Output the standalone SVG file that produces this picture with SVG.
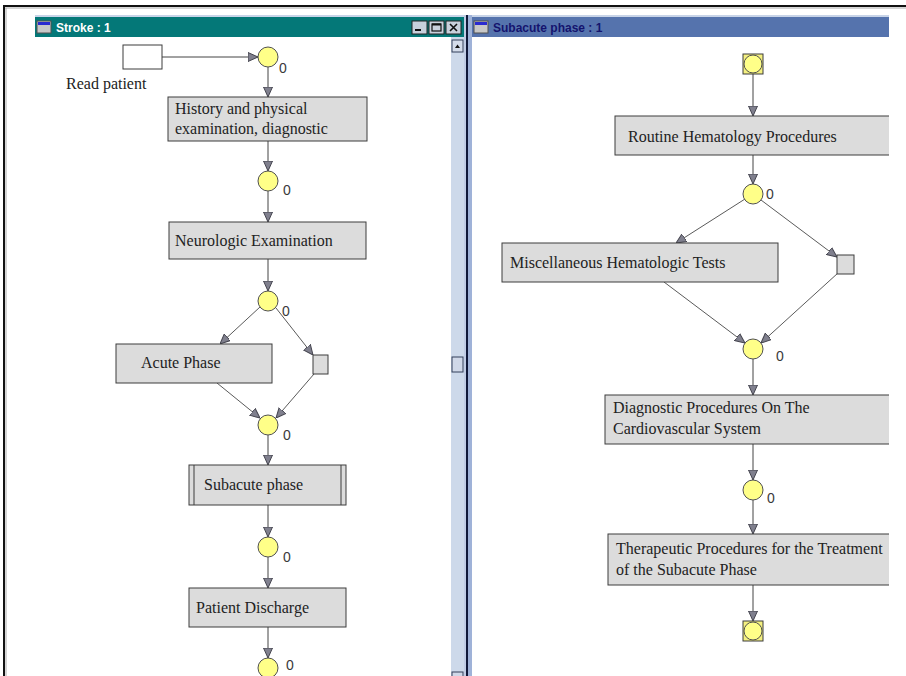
<svg xmlns="http://www.w3.org/2000/svg" width="906" height="676" viewBox="0 0 906 676">
  <style>
    .task { fill: #dcdcdc; stroke: #3c3c3c; stroke-width: 1; }
    .label { font-family: "Liberation Serif", "Times New Roman", serif; font-size: 16px; fill: #222; }
    .place { fill: #ffff88; stroke: #505050; stroke-width: 1; }
    .count { font-family: "Liberation Sans", Arial, sans-serif; font-size: 14px; fill: #3a3a3a; }
    .edge { fill: none; stroke: #454545; stroke-width: 1; marker-end: url(#arrow); }
    .diag { stroke: #5a5a5a; }
    .gate { fill: #dcdcdc; stroke: #3c3c3c; stroke-width: 1; }
    .title { font-family: "Liberation Sans", Arial, sans-serif; font-size: 12px; font-weight: bold; }
  </style>
  <defs>
    <marker id="arrow" viewBox="0 0 10 10" refX="10" refY="5" markerWidth="10" markerHeight="10" markerUnits="userSpaceOnUse" orient="auto">
      <path d="M0,0.5 L10,5 L0,9.5 Z" fill="#80808e" stroke="#45454f" stroke-width="1"/>
    </marker>
    <clipPath id="leftPane"><rect x="35" y="37" width="416" height="639"/></clipPath>
    <clipPath id="rightPane"><rect x="472" y="37" width="417" height="639"/></clipPath>
    <g id="winIcon">
      <rect x="0" y="0" width="14" height="12" fill="#c8c8c8" stroke="#505050" stroke-width="1"/>
      <rect x="1" y="1" width="12" height="3" fill="#2a2ad0"/>
    </g>
  </defs>

  <!-- page background and outer frame -->
  <rect x="0" y="0" width="906" height="676" fill="#ffffff"/>
  <line x1="3" y1="6" x2="906" y2="6" stroke="#111" stroke-width="2"/>
  <line x1="4" y1="6" x2="4" y2="676" stroke="#111" stroke-width="2"/>
  <line x1="6" y1="8" x2="6" y2="676" stroke="#aaa" stroke-width="1"/>
  <line x1="5" y1="8" x2="906" y2="8" stroke="#aaa" stroke-width="1"/>

  <!-- left window chrome -->
  <g id="stroke-window">
    <rect x="35" y="15" width="430" height="3" fill="#c8d4e8"/>
    <rect x="35" y="17" width="430" height="20" fill="#047878"/>
    <use href="#winIcon" x="37" y="21"/>
    <text class="title" x="56" y="32" fill="#ffffff">Stroke : 1</text>
    <g id="min-btn">
      <rect x="412" y="21" width="15" height="13" fill="#c8d0dc" stroke="#222" stroke-width="1"/>
      <rect x="415" y="29" width="6" height="2" fill="#111"/>
    </g>
    <g id="max-btn">
      <rect x="429" y="21" width="15" height="13" fill="#c8d0dc" stroke="#222" stroke-width="1"/>
      <rect x="432" y="24" width="9" height="7" fill="none" stroke="#111" stroke-width="1.2"/>
      <line x1="432" y1="24.5" x2="441" y2="24.5" stroke="#111" stroke-width="2"/>
    </g>
    <g id="close-btn">
      <rect x="446" y="21" width="15" height="13" fill="#c8d0dc" stroke="#222" stroke-width="1"/>
      <path d="M450,24 L457,31 M457,24 L450,31" stroke="#111" stroke-width="1.6"/>
    </g>
    <rect x="35" y="37" width="416" height="639" fill="#ffffff"/>
    <!-- vertical scrollbar -->
    <rect x="451" y="37" width="13" height="639" fill="#cdd9ea"/>
    <rect x="452" y="40" width="11" height="12" fill="#d4dcea" stroke="#34405a" stroke-width="1"/>
    <path d="M455,48 L460,48 L457.5,44.5 Z" fill="#111"/>
    <rect x="452" y="357" width="11" height="15" fill="#d0d8e8" stroke="#34405a" stroke-width="1"/>
    <rect x="452" y="672" width="11" height="6" fill="#d0d8e8" stroke="#34405a" stroke-width="1"/>
  </g>

  <!-- splitter between windows -->
  <rect x="464" y="15" width="2" height="661" fill="#c0cce4"/>
  <rect x="466" y="15" width="2" height="661" fill="#101838"/>
  <rect x="468" y="15" width="4" height="661" fill="#9fb2d8"/>

  <!-- right window chrome -->
  <g id="subacute-window">
    <rect x="472" y="15" width="417" height="3" fill="#c8d4e8"/>
    <rect x="472" y="17" width="417" height="20" fill="#5573ad"/>
    <use href="#winIcon" x="474" y="21"/>
    <text class="title" x="493" y="32" fill="#14146e">Subacute phase : 1</text>
    <rect x="472" y="37" width="417" height="639" fill="#ffffff"/>
  </g>

  <!-- Stroke process -->
  <g clip-path="url(#leftPane)">
    <g id="connectors-left">
      <line class="edge" x1="162" y1="57" x2="258" y2="57"/>
      <line class="edge" x1="268" y1="67" x2="268" y2="97"/>
      <line class="edge" x1="268" y1="141" x2="268" y2="171"/>
      <line class="edge" x1="268" y1="191" x2="268" y2="222"/>
      <line class="edge" x1="268" y1="259" x2="268" y2="291"/>
      <line class="edge diag" x1="260" y1="307" x2="220" y2="344"/>
      <line class="edge diag" x1="276" y1="308" x2="313" y2="355"/>
      <line class="edge diag" x1="217" y1="383" x2="260" y2="418"/>
      <line class="edge diag" x1="314" y1="374" x2="276" y2="418"/>
      <line class="edge" x1="268" y1="435" x2="268" y2="465"/>
      <line class="edge" x1="268" y1="505" x2="268" y2="537"/>
      <line class="edge" x1="268" y1="557" x2="268" y2="588"/>
      <line class="edge" x1="268" y1="627" x2="268" y2="658"/>
    </g>

    <g id="read-patient">
      <rect x="123" y="45" width="39" height="24" fill="#ffffff" stroke="#3c3c3c"/>
      <text class="label" x="66" y="89">Read patient</text>
    </g>
    <g id="p-start">
      <circle class="place" cx="268" cy="57" r="10"/>
      <text class="count" x="279" y="73">0</text>
    </g>
    <g id="history">
      <rect class="task" x="168" y="97" width="199" height="44"/>
      <text class="label" x="175" y="114">History and physical</text>
      <text class="label" x="175" y="134">examination, diagnostic</text>
    </g>
    <g id="p-history">
      <circle class="place" cx="268" cy="181" r="10"/>
      <text class="count" x="283" y="195">0</text>
    </g>
    <g id="neurologic">
      <rect class="task" x="169" y="222" width="197" height="37"/>
      <text class="label" x="175" y="246">Neurologic Examination</text>
    </g>
    <g id="p-neuro">
      <circle class="place" cx="268" cy="301" r="10"/>
      <text class="count" x="282" y="316">0</text>
    </g>
    <g id="acute-phase">
      <rect class="task" x="116" y="344" width="156" height="39"/>
      <text class="label" x="141" y="368">Acute Phase</text>
    </g>
    <g id="skip-acute">
      <rect class="gate" x="313" y="355" width="15" height="19"/>
    </g>
    <g id="p-acute">
      <circle class="place" cx="268" cy="425" r="10"/>
      <text class="count" x="283" y="440">0</text>
    </g>
    <g id="subacute-phase">
      <rect class="task" x="189" y="465" width="157" height="40"/>
      <line x1="194" y1="465" x2="194" y2="505" stroke="#3c3c3c"/>
      <line x1="341" y1="465" x2="341" y2="505" stroke="#3c3c3c"/>
      <text class="label" x="204" y="490">Subacute phase</text>
    </g>
    <g id="p-subacute">
      <circle class="place" cx="268" cy="547" r="10"/>
      <text class="count" x="283" y="562">0</text>
    </g>
    <g id="discharge">
      <rect class="task" x="189" y="588" width="157" height="39"/>
      <text class="label" x="196" y="613">Patient Discharge</text>
    </g>
    <g id="p-end">
      <circle class="place" cx="268" cy="668" r="10"/>
      <text class="count" x="286" y="670">0</text>
    </g>
  </g>

  <!-- Subacute phase process -->
  <g clip-path="url(#rightPane)">
    <g id="connectors-right">
      <line class="edge" x1="753" y1="74" x2="753" y2="116"/>
      <line class="edge" x1="753" y1="155" x2="753" y2="184"/>
      <line class="edge diag" x1="745" y1="199" x2="676" y2="243"/>
      <line class="edge diag" x1="761" y1="200" x2="837" y2="257"/>
      <line class="edge diag" x1="664" y1="282" x2="745" y2="343"/>
      <line class="edge diag" x1="838" y1="273" x2="761" y2="343"/>
      <line class="edge" x1="753" y1="359" x2="753" y2="395"/>
      <line class="edge" x1="753" y1="444" x2="753" y2="480"/>
      <line class="edge" x1="753" y1="500" x2="753" y2="534"/>
      <line class="edge" x1="753" y1="585" x2="753" y2="621"/>
    </g>

    <g id="sub-start">
      <rect x="743" y="54" width="20" height="20" fill="#f4f080" stroke="#3c3c3c"/>
      <circle class="place" cx="753" cy="64" r="9"/>
    </g>
    <g id="routine-hematology">
      <rect class="task" x="615" y="116" width="290" height="39"/>
      <text class="label" x="628" y="142">Routine Hematology Procedures</text>
    </g>
    <g id="p-routine">
      <circle class="place" cx="753" cy="194" r="10"/>
      <text class="count" x="766" y="199">0</text>
    </g>
    <g id="misc-hematologic">
      <rect class="task" x="502" y="243" width="276" height="39"/>
      <text class="label" x="510" y="268">Miscellaneous Hematologic Tests</text>
    </g>
    <g id="skip-misc">
      <rect class="gate" x="837" y="255" width="17" height="19"/>
    </g>
    <g id="p-misc">
      <circle class="place" cx="753" cy="349" r="10"/>
      <text class="count" x="776" y="361">0</text>
    </g>
    <g id="diagnostic-cardio">
      <rect class="task" x="605" y="395" width="300" height="49"/>
      <text class="label" x="613" y="413">Diagnostic Procedures On The</text>
      <text class="label" x="613" y="434">Cardiovascular System</text>
    </g>
    <g id="p-diagnostic">
      <circle class="place" cx="753" cy="490" r="10"/>
      <text class="count" x="767" y="503">0</text>
    </g>
    <g id="therapeutic">
      <rect class="task" x="608" y="534" width="297" height="51"/>
      <text class="label" x="616" y="554">Therapeutic Procedures for the Treatment</text>
      <text class="label" x="616" y="575">of the Subacute Phase</text>
    </g>
    <g id="sub-end">
      <rect x="743" y="621" width="20" height="20" fill="#f4f080" stroke="#3c3c3c"/>
      <circle class="place" cx="753" cy="631" r="9"/>
    </g>
  </g>
</svg>
